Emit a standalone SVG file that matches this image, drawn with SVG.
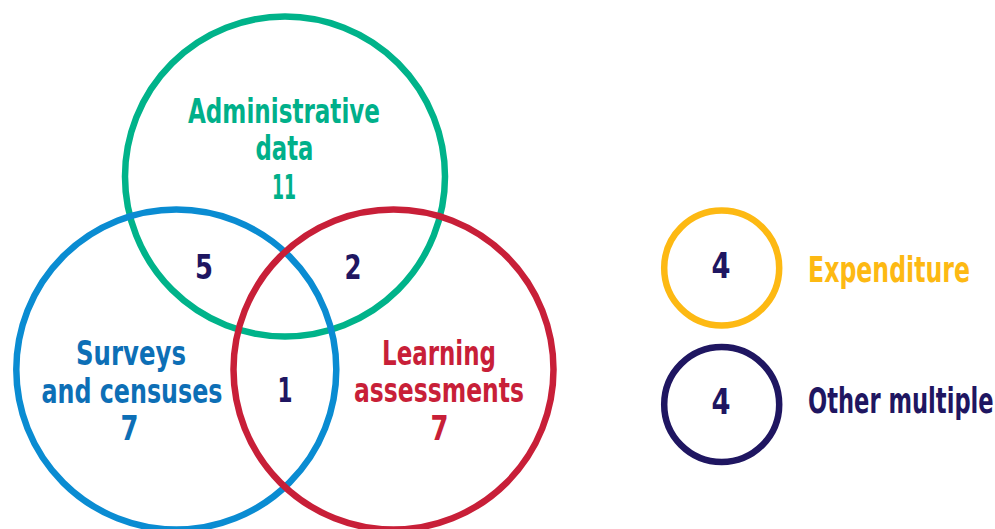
<svg xmlns="http://www.w3.org/2000/svg" width="995" height="529" viewBox="0 0 995 529">
<style>
.c{fill:none;stroke-width:6.5}
text{font-family:"DejaVu Sans Condensed","DejaVu Sans",sans-serif;font-weight:bold;text-anchor:middle;font-stretch:condensed}
.l{font-size:33px}
.r{font-size:36px;text-anchor:start}
.g{fill:#00B08A}
.b{fill:#0D6FB6}
.red{fill:#C81F38}
.n{fill:#1F1661}
.y{fill:#FDB913}
</style>
<rect width="995" height="529" fill="#ffffff"/>
<g id="connectors"></g>
<g id="admin">
<circle class="c" cx="285" cy="176.5" r="160" stroke="#00B38A"/>
<text class="l g" x="284" y="122.5" textLength="192" lengthAdjust="spacingAndGlyphs">Administrative</text>
<text class="l g" x="284.5" y="160" textLength="58" lengthAdjust="spacingAndGlyphs">data</text>
<text class="l g" x="284" y="198.5" textLength="24" lengthAdjust="spacingAndGlyphs">11</text>
</g>
<g id="surveys">
<circle class="c" cx="176.3" cy="369.5" r="160" stroke="#0A8CD2"/>
<text class="l b" x="131" y="365" textLength="110" lengthAdjust="spacingAndGlyphs">Surveys</text>
<text class="l b" x="132" y="402.5" textLength="181" lengthAdjust="spacingAndGlyphs">and censuses</text>
<text class="l b" x="129.5" y="440" textLength="18" lengthAdjust="spacingAndGlyphs">7</text>
</g>
<g id="learning">
<circle class="c" cx="393.5" cy="369.5" r="160" stroke="#C81F38"/>
<text class="l red" x="439" y="364.5" textLength="114" lengthAdjust="spacingAndGlyphs">Learning</text>
<text class="l red" x="439" y="402" textLength="170" lengthAdjust="spacingAndGlyphs">assessments</text>
<text class="l red" x="439.5" y="440" textLength="18" lengthAdjust="spacingAndGlyphs">7</text>
</g>
<g id="overlap-admin-surveys">
<text class="l n" x="204" y="279" textLength="18" lengthAdjust="spacingAndGlyphs">5</text>
</g>
<g id="overlap-admin-learning">
<text class="l n" x="353" y="279" textLength="17" lengthAdjust="spacingAndGlyphs">2</text>
</g>
<g id="overlap-surveys-learning">
<text class="l n" x="285" y="402" textLength="15" lengthAdjust="spacingAndGlyphs">1</text>
</g>
<g id="expenditure">
<circle class="c" cx="721.7" cy="268" r="57.5" stroke="#FDB913"/>
<text class="l n" x="721" y="277.5" textLength="19" lengthAdjust="spacingAndGlyphs" style="font-size:35px">4</text>
<g transform="translate(808,281.5) scale(0.72,1)">
<text class="r y" x="0" y="0" textLength="225" lengthAdjust="spacingAndGlyphs">Expenditure</text>
</g>
</g>
<g id="other-multiple">
<circle class="c" cx="721.7" cy="404.5" r="57.5" stroke="#1F1661"/>
<text class="l n" x="721" y="414" textLength="19" lengthAdjust="spacingAndGlyphs" style="font-size:35px">4</text>
<g transform="translate(808,412.5) scale(0.68,1)">
<text class="r n" x="0" y="0" textLength="273" lengthAdjust="spacingAndGlyphs">Other multiple</text>
</g>
</g>
</svg>
